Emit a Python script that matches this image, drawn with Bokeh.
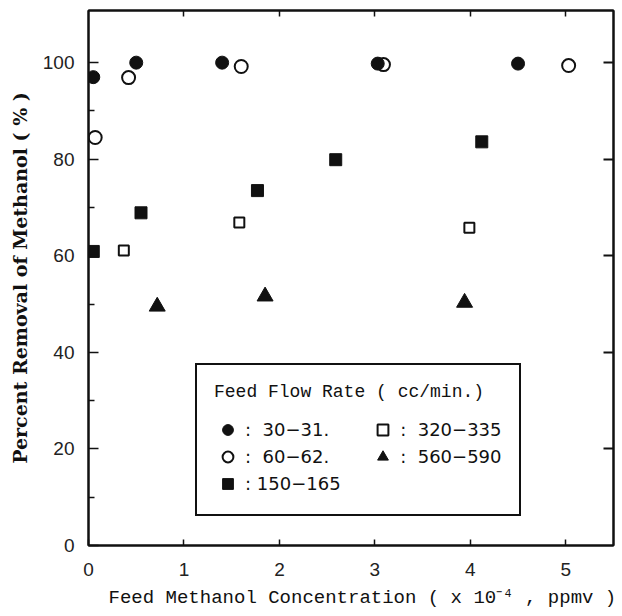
from bokeh.plotting import figure
from bokeh.models import LinearAxis, FixedTicker, Range1d, Legend, LegendItem
from bokeh.embed import file_html
from bokeh.resources import INLINE

# ---- data ----
x_30_31 = [0.05, 0.50, 1.40, 3.03, 4.50]
y_30_31 = [97.0, 100.0, 100.0, 99.8, 99.8]
x_60_62 = [0.07, 0.42, 1.60, 3.09, 5.03]
y_60_62 = [84.5, 96.9, 99.2, 99.6, 99.4]
x_150_165 = [0.05, 0.55, 1.77, 2.59, 4.12]
y_150_165 = [60.9, 68.9, 73.5, 79.9, 83.6]
x_320_335 = [0.37, 1.58, 3.99]
y_320_335 = [61.1, 66.9, 65.8]
x_560_590 = [0.72, 1.85, 3.94]
y_560_590 = [49.5, 51.6, 50.3]

x_ticks = [0, 1, 2, 3, 4, 5]
y_ticks = [0, 20, 40, 60, 80, 100]
y_minor_ticks = [10, 30, 50, 70, 90]
NB = "\u00a0"
legend_title = "Feed Flow Rate ( cc/min.)"
legend_labels = [":" + NB * 2 + "30\u221231." + NB * 5,
                 ":" + NB * 2 + "60\u221262." + NB * 5,
                 ":" + NB + "150\u2212165" + NB * 5,
                 ":" + NB * 2 + "320\u2212335",
                 ":" + NB * 2 + "560\u2212590"]
x_title = NB * 2 + "Feed Methanol Concentration ( x 10\u207b\u2074 , ppmv )"
y_title = "Percent Removal of Methanol ( % )"

INK = "#111111"
TICK_FONT = "Liberation Sans"

p = figure(width=622, height=616, output_backend="svg", toolbar_location=None,
           x_range=Range1d(0, 5.5), y_range=Range1d(0, 110.8),
           min_border_left=88, min_border_right=9, min_border_top=10, min_border_bottom=71)
p.background_fill_color = "white"
p.border_fill_color = "white"
p.grid.visible = False
p.outline_line_color = INK
p.outline_line_width = 2

# bottom axis
xa = p.xaxis[0]
xa.ticker = FixedTicker(ticks=x_ticks)
xa.major_tick_in = 6
xa.major_tick_out = 0
xa.minor_tick_in = 0
xa.minor_tick_out = 0
xa.axis_line_color = INK
xa.axis_line_width = 2
xa.major_tick_line_color = INK
xa.major_tick_line_width = 1.5
xa.major_label_text_font = TICK_FONT
xa.major_label_text_font_size = "19px"
xa.major_label_text_color = "#222222"
xa.major_label_standoff = 17
xa.axis_label = x_title
xa.axis_label_text_font = "Liberation Mono"
xa.axis_label_text_font_style = "normal"
xa.axis_label_text_font_size = "19px"
xa.axis_label_text_color = INK
xa.axis_label_standoff = 8

# left axis
ya = p.yaxis[0]
ya.ticker = FixedTicker(ticks=y_ticks, minor_ticks=y_minor_ticks)
ya.major_tick_in = 10
ya.major_tick_out = 0
ya.minor_tick_in = 6
ya.minor_tick_out = 0
ya.axis_line_color = INK
ya.axis_line_width = 2
ya.major_tick_line_color = INK
ya.major_tick_line_width = 1.5
ya.minor_tick_line_color = INK
ya.minor_tick_line_width = 1.5
ya.major_label_text_font = TICK_FONT
ya.major_label_text_font_size = "19px"
ya.major_label_text_color = "#222222"
ya.major_label_standoff = 14
ya.axis_label = y_title
ya.axis_label_text_font = "DejaVu Serif"
ya.axis_label_text_font_style = "bold"
ya.axis_label_text_font_size = "19px"
ya.axis_label_text_color = INK
ya.axis_label_standoff = 9

# top and right axes (ticks only)
top = LinearAxis(ticker=FixedTicker(ticks=x_ticks[1:]), major_tick_in=6, major_tick_out=0,
                 minor_tick_in=0, minor_tick_out=0, major_label_text_font_size="1px",
                 major_label_text_color=None, major_label_standoff=0,
                 axis_line_color=INK, axis_line_width=2,
                 major_tick_line_color=INK, major_tick_line_width=1.5)
right = LinearAxis(ticker=FixedTicker(ticks=y_ticks[1:]), major_tick_in=10, major_tick_out=0,
                   minor_tick_in=0, minor_tick_out=0, major_label_text_font_size="1px",
                   major_label_text_color=None, major_label_standoff=0,
                   axis_line_color=INK, axis_line_width=2,
                   major_tick_line_color=INK, major_tick_line_width=2)
p.add_layout(top, "above")
p.add_layout(right, "right")

# data markers
r1 = p.scatter(x_30_31, y_30_31, marker="circle", size=13, fill_color=INK, line_color=INK)
r2 = p.scatter(x_60_62, y_60_62, marker="circle", size=13, fill_color=None, line_color=INK, line_width=2)
r3 = p.scatter(x_150_165, y_150_165, marker="square", size=12, fill_color=INK, line_color=INK)
r4 = p.scatter(x_320_335, y_320_335, marker="square", size=10, fill_color=None, line_color=INK, line_width=2)
r5 = p.scatter(x_560_590, y_560_590, marker="triangle", size=16, fill_color=INK, line_color=INK)

legend = Legend(
    items=[LegendItem(label=lab, renderers=[r]) for lab, r in zip(legend_labels, [r1, r2, r3, r4, r5])],
    location=(107, 29), nrows=3, orientation="vertical",
    title=legend_title, title_text_font="Liberation Mono", title_text_font_size="18px",
    title_text_font_style="normal", title_text_color=INK, title_standoff=14,
    label_text_font="DejaVu Sans", label_text_font_size="18px", label_text_color=INK,
    glyph_width=27, glyph_height=27, label_height=22, label_standoff=4, spacing=0,
    padding=17, margin=0, border_line_color=INK, border_line_width=2, border_line_alpha=1.0,
    background_fill_color="white", background_fill_alpha=1.0,
)
p.add_layout(legend)

open("out.html", "w").write(file_html(p, INLINE))
